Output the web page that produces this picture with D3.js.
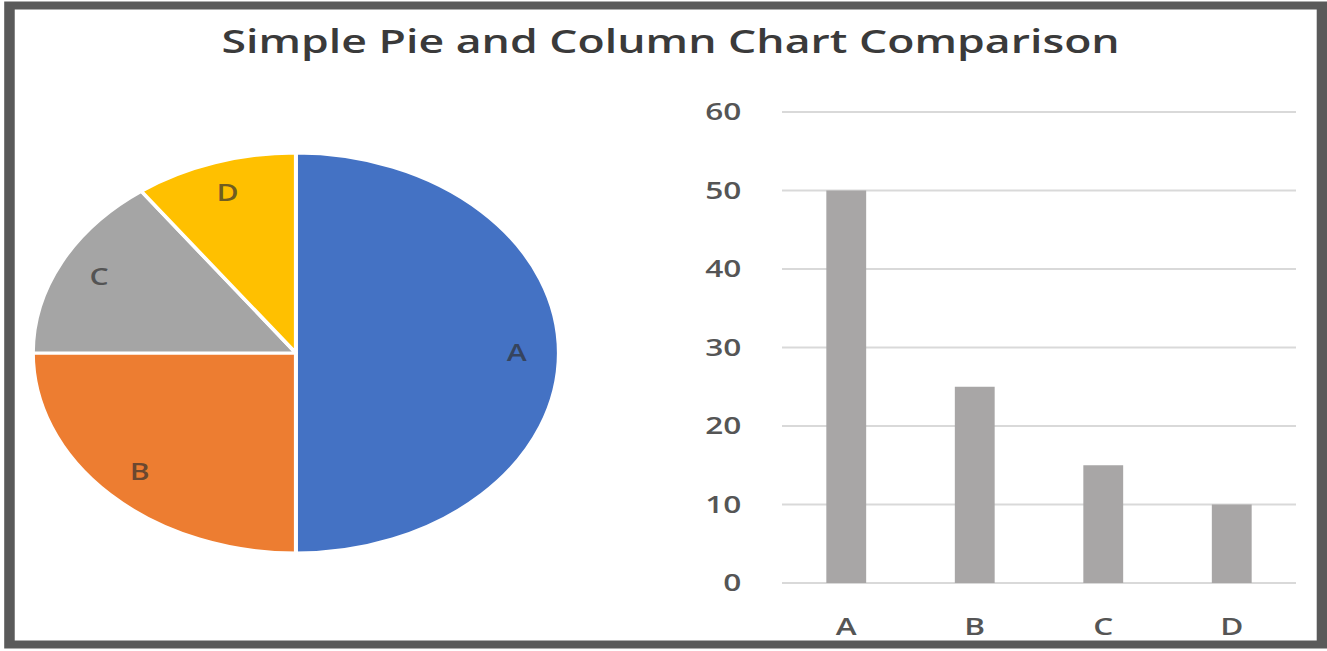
<!DOCTYPE html>
<html>
<head>
<meta charset="utf-8">
<script src="https://cdn.jsdelivr.net/npm/d3@7"></script>
<style>
  html, body { margin: 0; padding: 0; background: #ffffff; }
  svg { display: block; }
  text { font-family: "Open Sans", "Noto Sans", sans-serif; }
</style>
</head>
<body>
<svg id="chart" width="1327" height="651"></svg>
<script>
// ---- data ----
const categories = ["A", "B", "C", "D"];
const values = [50, 25, 15, 10];
const pieColors = ["#4472C4", "#ED7D31", "#A5A5A5", "#FFC000"];
const barColor = "#A8A6A6";
const yTicks = [0, 10, 20, 30, 40, 50, 60];
const titleText = "Simple Pie and Column Chart Comparison";

// ---- layout (the reference is horizontally stretched) ----
const W = 1327, H = 651;
const sx = 1.315;

const svg = d3.select("#chart");
svg.append("rect").attr("width", W).attr("height", H).attr("fill", "#ffffff");
const g = svg.append("g").attr("transform", `scale(${sx},1)`);

// border
g.append("rect")
  .attr("x", 7.2).attr("y", 5.5)
  .attr("width", 1005.3 - 7.2).attr("height", 644.5 - 5.5)
  .attr("fill", "#ffffff").attr("stroke", "#5a5a5a").attr("stroke-width", 8);

// title
g.append("text")
  .attr("x", 510).attr("y", 53)
  .attr("text-anchor", "middle")
  .attr("font-size", 32)
  .attr("font-weight", 600)
  .attr("fill", "#3a3a3a")
  .attr("textLength", 683).attr("lengthAdjust", "spacingAndGlyphs")
  .text(titleText);

// ---- pie ----
const cx = 225, cy = 353, r = 200;
const pie = d3.pie().sort(null).value(d => d.v);
const arcs = pie(categories.map((c, i) => ({ c, v: values[i], col: pieColors[i] })));
const arc = d3.arc().innerRadius(0).outerRadius(r);
const labelArc = d3.arc().innerRadius(r * 0.84).outerRadius(r * 0.84);
const pg = g.append("g").attr("transform", `translate(${cx},${cy})`);
pg.selectAll("path").data(arcs).join("path")
  .attr("d", arc)
  .attr("fill", d => d.data.col)
  .attr("stroke", "#ffffff")
  .attr("stroke-width", 3)
  .attr("stroke-linejoin", "round");
pg.selectAll("text").data(arcs).join("text")
  .attr("transform", d => `translate(${labelArc.centroid(d)})`)
  .attr("text-anchor", "middle")
  .attr("dy", "0.35em")
  .attr("font-size", 23)
  .attr("font-weight", 600)
  .attr("fill", "#303030")
  .attr("fill-opacity", 0.7)
  .text(d => d.data.c);

// ---- column chart ----
const x0 = 782 / sx, x1 = 1296 / sx;
const x = d3.scaleBand().domain(categories).range([x0, x1])
  .paddingInner(0.69).paddingOuter(0.345);
const y = d3.scaleLinear().domain([0, 60]).range([583, 112]);

// gridlines
g.append("g").selectAll("line").data(yTicks).join("line")
  .attr("x1", x0).attr("x2", x1)
  .attr("y1", d => y(d)).attr("y2", d => y(d))
  .attr("stroke", "#d9d9d9").attr("stroke-width", 2);

// bars
g.append("g").selectAll("rect").data(categories).join("rect")
  .attr("x", d => x(d))
  .attr("width", x.bandwidth())
  .attr("y", (d, i) => y(values[i]))
  .attr("height", (d, i) => y(0) - y(values[i]))
  .attr("fill", barColor);

// y axis
const ya = g.append("g").attr("transform", `translate(${x0},0)`)
  .call(d3.axisLeft(y).tickValues(yTicks).tickSize(0).tickPadding(31));
ya.select(".domain").remove();
ya.selectAll("text").attr("font-size", 24).attr("font-weight", 600).attr("fill", "#555555")
  .attr("font-family", "'Open Sans', sans-serif");

// x axis
const xa = g.append("g").attr("transform", `translate(0,${y(0)})`)
  .call(d3.axisBottom(x).tickSize(0).tickPadding(35));
xa.select(".domain").remove();
xa.selectAll("text").attr("font-size", 24).attr("font-weight", 600).attr("fill", "#555555")
  .attr("font-family", "'Open Sans', sans-serif");
</script>
</body>
</html>
